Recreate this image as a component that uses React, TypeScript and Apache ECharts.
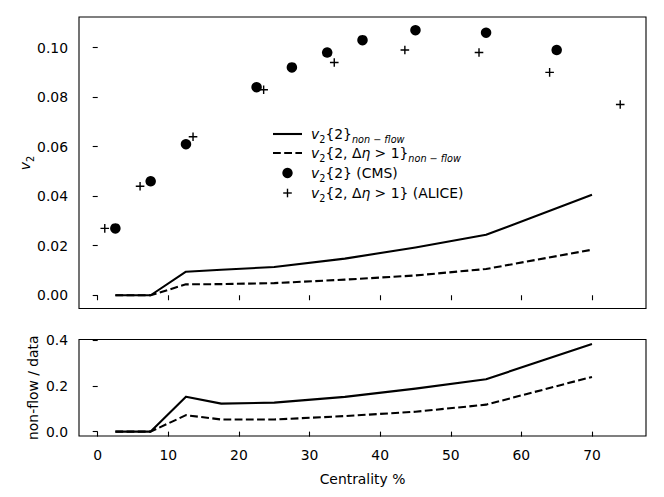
import React, { useEffect, useRef } from "react";
import * as echarts from "echarts";

// ---- data ----
const modelX = [2.5, 7.5, 12.5, 17.5, 25, 35, 45, 55, 70];
const nonFlow2 = [0, 0, 0.0095, 0.0103, 0.0114, 0.0148, 0.0193, 0.0244, 0.0406];
const nonFlowEta = [0, 0, 0.0044, 0.0045, 0.0049, 0.0063, 0.008, 0.0106, 0.0184];
const ratio2 = [0, 0, 0.153, 0.1226, 0.127, 0.152, 0.188, 0.229, 0.384];
const ratioEta = [0, 0, 0.072, 0.053, 0.053, 0.068, 0.087, 0.118, 0.2395];
const cmsX = [2.5, 7.5, 12.5, 22.5, 27.5, 32.5, 37.5, 45, 55, 65];
const cmsV2 = [0.027, 0.046, 0.061, 0.084, 0.092, 0.098, 0.103, 0.107, 0.106, 0.099];
const aliceX = [1, 6, 13.5, 23.5, 33.5, 43.5, 54, 64, 74];
const aliceV2 = [0.027, 0.044, 0.064, 0.083, 0.094, 0.099, 0.098, 0.09, 0.077];
const xTicks = [0, 10, 20, 30, 40, 50, 60, 70];
const v2Ticks = [0, 0.02, 0.04, 0.06, 0.08, 0.1];
const ratioTicks = [0, 0.2, 0.4];

const FONT = "DejaVu Sans";
const FS = 13.9;
const LW = 2.1;
const DASH = [7.8, 3.4];

const zip = (xs: number[], ys: number[]) => xs.map((x, i) => [x, ys[i]]);

const richStyles = {
  i: { fontStyle: "italic", fontSize: FS, fontFamily: FONT, fill: "#000", lineHeight: 21 },
  sb: { fontSize: 9.7, fontFamily: FONT, fill: "#000", lineHeight: 12, verticalAlign: "bottom" },
  si: { fontSize: 9.7, fontStyle: "italic", fontFamily: FONT, fill: "#000", lineHeight: 12, verticalAlign: "bottom" },
};

const textStyle = (text: string, x: number, y: number, extra: any = {}) => ({
  type: "text",
  x,
  y,
  ...extra,
  style: {
    text,
    fontSize: FS,
    fontFamily: FONT,
    fill: "#000",
    align: "left",
    verticalAlign: "middle",
    lineHeight: 21,
    rich: richStyles,
    ...(extra.style || {}),
  },
});

const plusPath = "path://M3.6,0h1.4v8.6h-1.4z M0,3.6h8.6v1.4h-8.6z";

const axisTickStyle = { show: true, inside: false, length: 5, lineStyle: { color: "#000", width: 1.1 } };
const labelStyle = { color: "#000", fontSize: FS, fontFamily: FONT };

const option: any = {
  animation: false,
  backgroundColor: "#fff",
  grid: [
    { left: 79, top: 17, width: 567, height: 291.5, show: true, borderColor: "#000", borderWidth: 1.1, backgroundColor: "transparent" },
    { left: 79, top: 339.5, width: 567, height: 96.5, show: true, borderColor: "#000", borderWidth: 1.1, backgroundColor: "transparent" },
  ],
  xAxis: [
    {
      type: "value", gridIndex: 0, min: -2.65, max: 77.65,
      axisLine: { show: false },
      axisTick: { ...axisTickStyle, customValues: xTicks },
      axisLabel: { show: false },
      splitLine: { show: false },
    },
    {
      type: "value", gridIndex: 1, min: -2.65, max: 77.65,
      axisLine: { show: false },
      axisTick: { ...axisTickStyle, customValues: xTicks },
      axisLabel: { ...labelStyle, margin: 12, customValues: xTicks, formatter: (v: number) => String(v) },
      splitLine: { show: false },
    },
  ],
  yAxis: [
    {
      type: "value", gridIndex: 0, min: -0.00535, max: 0.11235,
      axisLine: { show: false },
      axisTick: { ...axisTickStyle, customValues: v2Ticks },
      axisLabel: { ...labelStyle, margin: 11, customValues: v2Ticks, formatter: (v: number) => v.toFixed(2) },
      splitLine: { show: false },
    },
    {
      type: "value", gridIndex: 1, min: -0.0192, max: 0.4032,
      axisLine: { show: false },
      axisTick: { ...axisTickStyle, customValues: ratioTicks },
      axisLabel: { ...labelStyle, margin: 11, customValues: ratioTicks, formatter: (v: number) => v.toFixed(1) },
      splitLine: { show: false },
    },
  ],
  series: [
    {
      name: "v2{2} non-flow", type: "line", xAxisIndex: 0, yAxisIndex: 0,
      data: zip(modelX, nonFlow2), symbol: "none",
      lineStyle: { color: "#000", width: LW, type: "solid", join: "round" },
    },
    {
      name: "v2{2,Δη>1} non-flow", type: "line", xAxisIndex: 0, yAxisIndex: 0,
      data: zip(modelX, nonFlowEta), symbol: "none",
      lineStyle: { color: "#000", width: LW, type: DASH, join: "round" },
    },
    {
      name: "v2{2} (CMS)", type: "scatter", xAxisIndex: 0, yAxisIndex: 0,
      data: zip(cmsX, cmsV2), symbol: "circle", symbolSize: 10.5,
      itemStyle: { color: "#000", opacity: 1 },
    },
    {
      name: "v2{2,Δη>1} (ALICE)", type: "scatter", xAxisIndex: 0, yAxisIndex: 0,
      data: zip(aliceX, aliceV2), symbol: plusPath, symbolSize: 8.6,
      itemStyle: { color: "#000", opacity: 1 },
    },
    {
      name: "ratio v2{2}", type: "line", xAxisIndex: 1, yAxisIndex: 1,
      data: zip(modelX, ratio2), symbol: "none",
      lineStyle: { color: "#000", width: LW, type: "solid", join: "round" },
    },
    {
      name: "ratio v2{2,Δη>1}", type: "line", xAxisIndex: 1, yAxisIndex: 1,
      data: zip(modelX, ratioEta), symbol: "none",
      lineStyle: { color: "#000", width: LW, type: DASH, join: "round" },
    },
  ],
  graphic: [
    // legend
    { type: "line", shape: { x1: 273, y1: 134, x2: 302, y2: 134 }, style: { stroke: "#000", lineWidth: LW } },
    { type: "line", shape: { x1: 273, y1: 153, x2: 302, y2: 153 }, style: { stroke: "#000", lineWidth: LW, lineDash: DASH } },
    { type: "circle", shape: { cx: 287.5, cy: 173, r: 5.2 }, style: { fill: "#000" } },
    { type: "rect", shape: { x: 283.2, y: 192.3, width: 8.6, height: 1.4 }, style: { fill: "#000" } },
    { type: "rect", shape: { x: 286.8, y: 188.7, width: 1.4, height: 8.6 }, style: { fill: "#000" } },
    textStyle("{i|v}{sb|2}{2}{si|non − flow}", 311, 134),
    textStyle("{i|v}{sb|2}{2, Δ{i|η} > 1}{si|non − flow}", 311, 153),
    textStyle("{i|v}{sb|2}{2} (CMS)", 311, 173),
    textStyle("{i|v}{sb|2}{2, Δ{i|η} > 1} (ALICE)", 311, 193),
    // axis titles
    textStyle("{i|v}{sb|2}", 24.5, 163, { rotation: Math.PI / 2, style: { align: "center" } }),
    textStyle("non-flow / data", 32.5, 387.7, { rotation: Math.PI / 2, style: { align: "center" } }),
    textStyle("Centrality %", 362.5, 479, { style: { align: "center" } }),
  ],
};

export default function App() {
  const ref = useRef<HTMLDivElement>(null);
  useEffect(() => {
    document.body.style.margin = "0";
    const chart = echarts.init(ref.current!, null, { renderer: "svg" });
    chart.setOption(option);
    return () => chart.dispose();
  }, []);
  return <div ref={ref} style={{ width: 664, height: 497 }} />;
}
